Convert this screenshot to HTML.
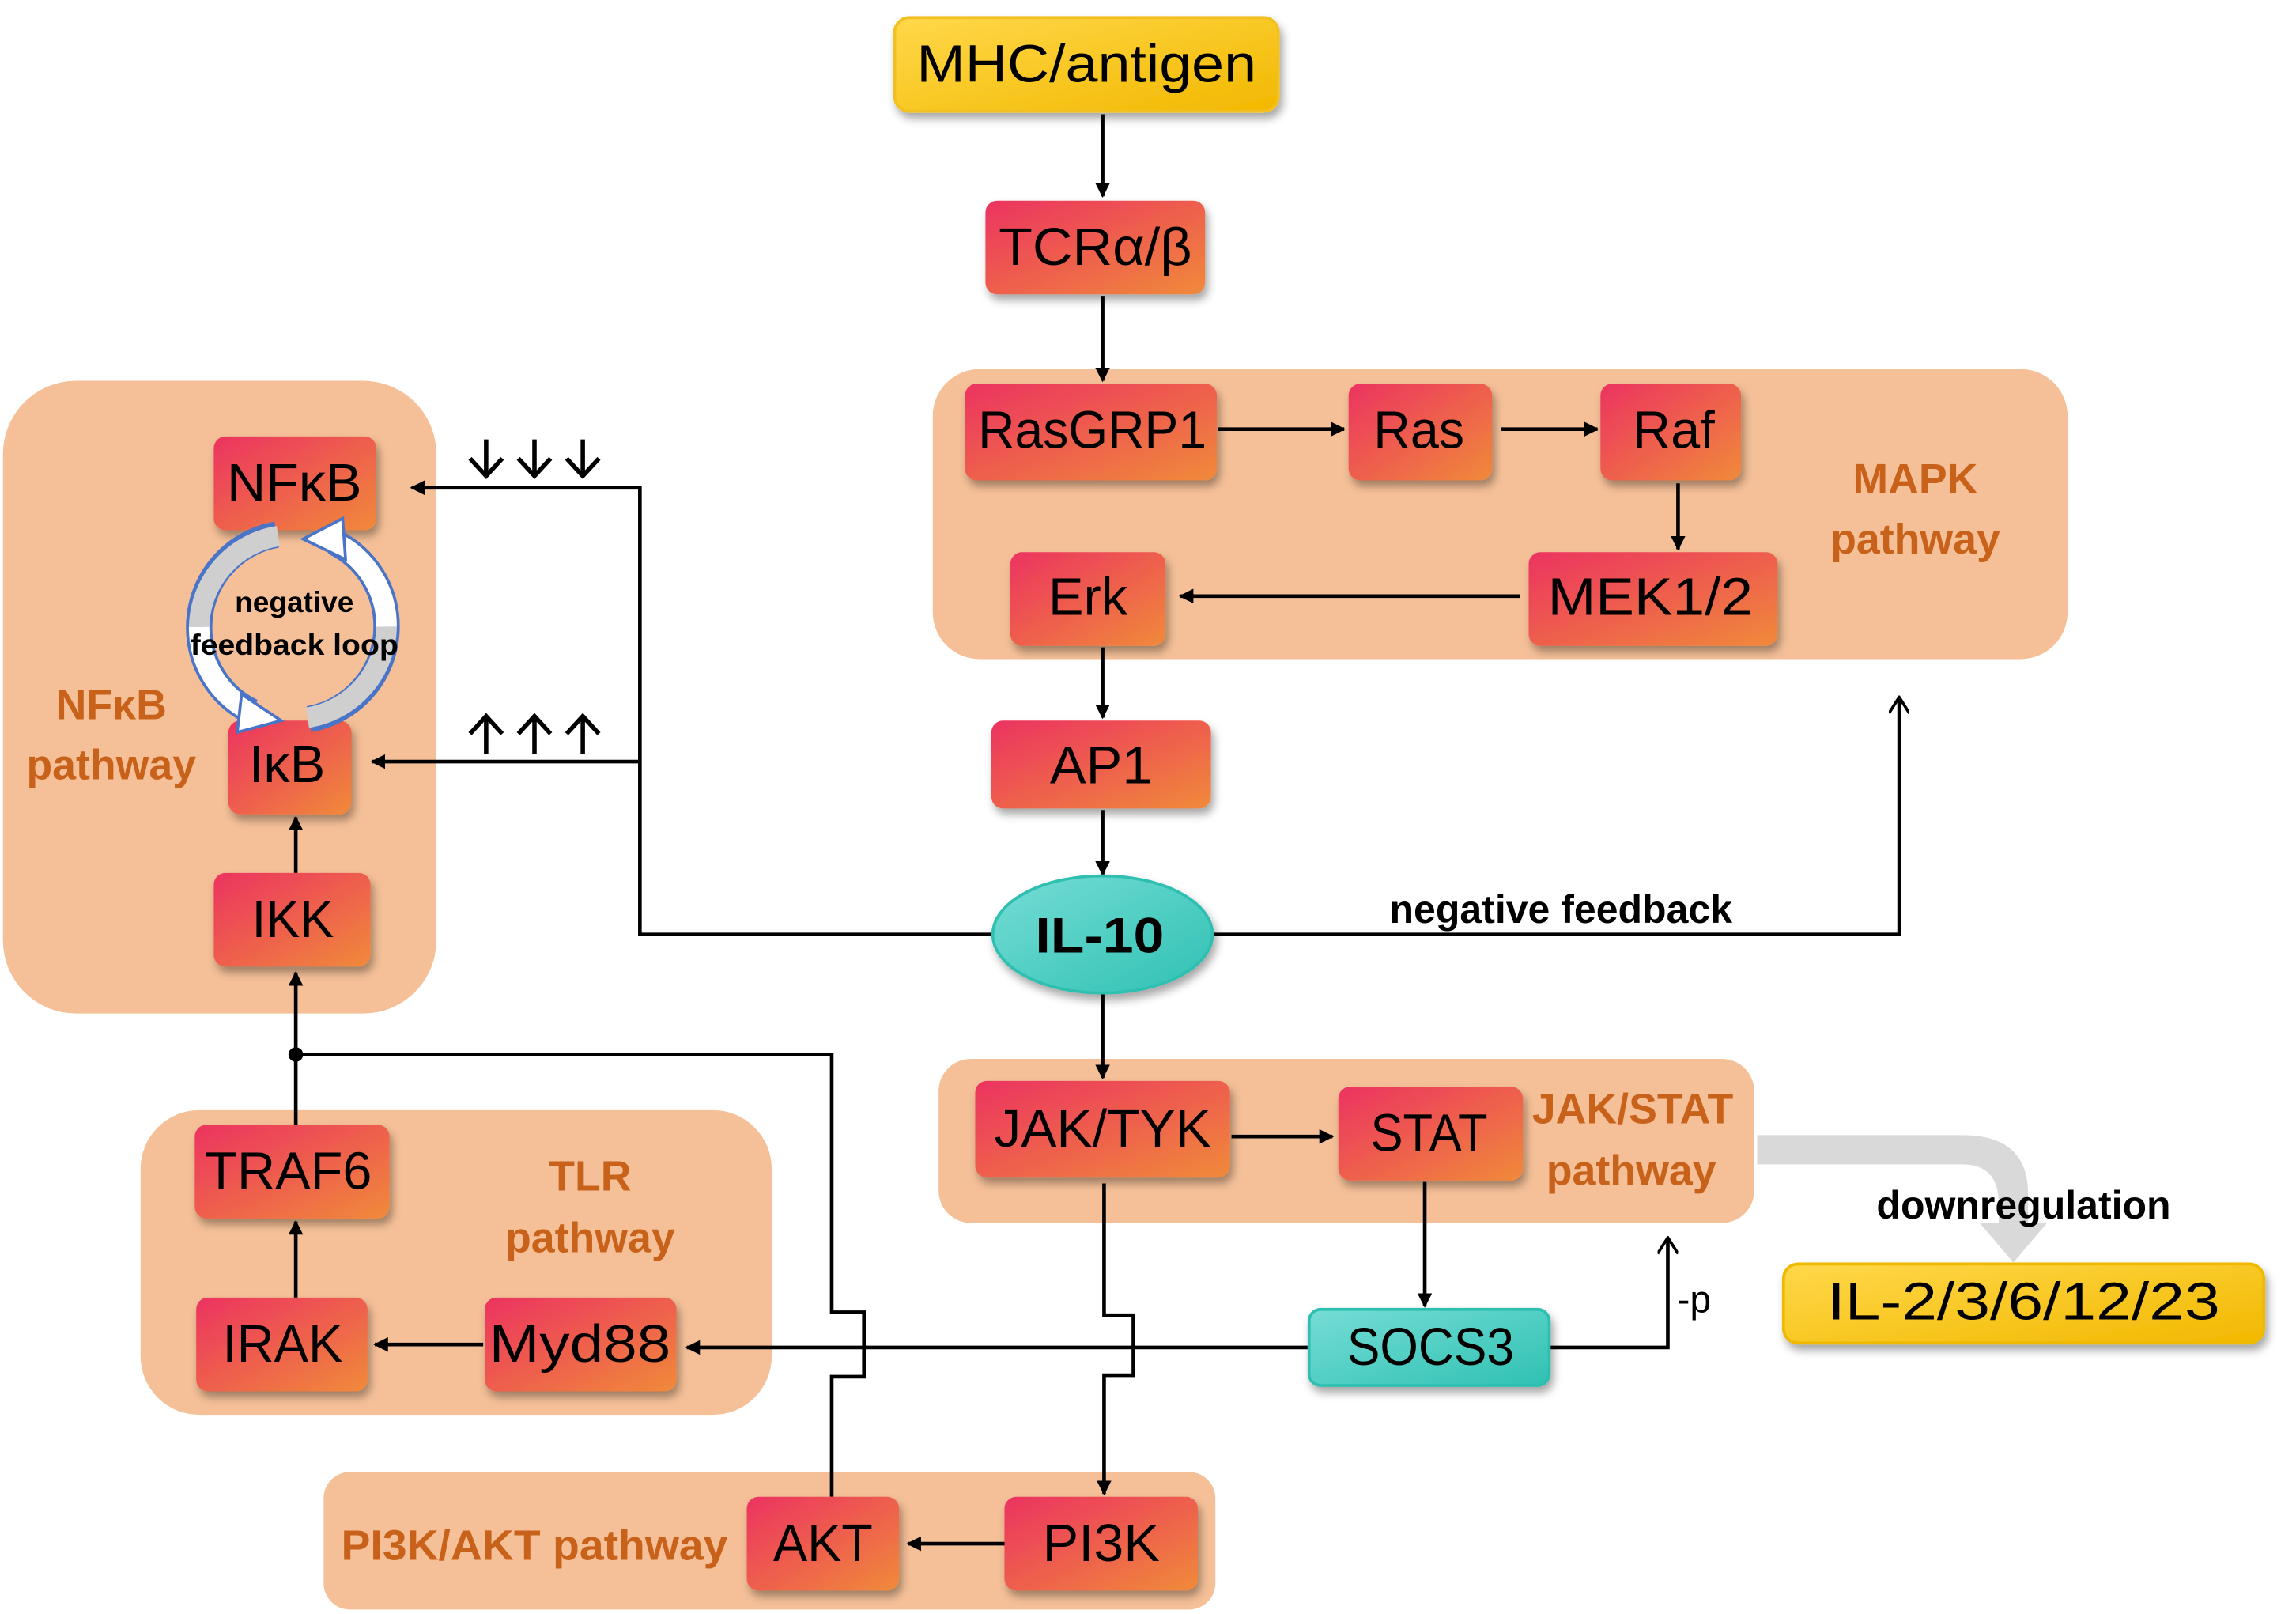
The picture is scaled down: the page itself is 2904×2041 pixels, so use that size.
<!DOCTYPE html>
<html><head><meta charset="utf-8"><style>
html,body{margin:0;padding:0;background:#fff}
svg{display:block}
text{font-family:"Liberation Sans","DejaVu Sans",sans-serif}
.n{font-size:36px;fill:#000;text-anchor:middle;dominant-baseline:central}
.g{font-size:29px;font-weight:bold;fill:#c8621a;text-anchor:middle}
.b{font-size:27px;font-weight:bold;fill:#000;text-anchor:middle}
.l{stroke:#000;stroke-width:2.5;fill:none}
.k{stroke:#000;stroke-width:3;fill:none}
</style></head><body>
<svg width="2904" height="2041" viewBox="0 0 1568 1102" xmlns="http://www.w3.org/2000/svg">
<defs>
<linearGradient id="r" x1="0" y1="0" x2="1" y2="1"><stop offset="0" stop-color="#ec3360"/><stop offset="1" stop-color="#f08a3a"/></linearGradient>
<linearGradient id="y" x1="0" y1="0" x2="1" y2="1"><stop offset="0" stop-color="#ffd84a"/><stop offset="1" stop-color="#f2b800"/></linearGradient>
<linearGradient id="t" x1="0" y1="0" x2="1" y2="1"><stop offset="0" stop-color="#76ddd5"/><stop offset="1" stop-color="#2fc1b3"/></linearGradient>
<filter id="s" x="-20%" y="-20%" width="140%" height="150%"><feDropShadow dx="2" dy="4" stdDeviation="3" flood-color="#000" flood-opacity="0.35"/></filter>
<marker id="a" markerWidth="10" markerHeight="10" refX="9" refY="5" orient="auto" markerUnits="userSpaceOnUse"><path d="M0,0 L10,5 L0,10 z" fill="#000"/></marker>
<marker id="o" markerWidth="14" markerHeight="14" refX="7" refY="1" orient="0" markerUnits="userSpaceOnUse"><path d="M0,12 L7,1 L14,12" fill="none" stroke="#000" stroke-width="2"/></marker>
</defs>
<!-- groups -->
<rect x="2" y="260" width="296" height="432" rx="50" fill="#f5c098"/>
<rect x="637" y="252" width="775" height="198" rx="32" fill="#f5c098"/>
<rect x="96" y="758" width="431" height="208" rx="40" fill="#f5c098"/>
<rect x="641" y="723" width="557" height="112" rx="22" fill="#f5c098"/>
<rect x="221" y="1005" width="609" height="94" rx="18" fill="#f5c098"/>
<text class="g" x="1308" y="337">MAPK</text><text class="g" x="1308" y="378">pathway</text>
<text class="g" x="76" y="491">NFκB</text><text class="g" x="76" y="532">pathway</text>
<text class="g" x="403" y="813">TLR</text><text class="g" x="403" y="855">pathway</text>
<text class="g" x="1115" y="767">JAK/STAT</text><text class="g" x="1114" y="809">pathway</text>
<text class="g" x="365" y="1065" textLength="264" lengthAdjust="spacingAndGlyphs">PI3K/AKT pathway</text>
<!-- connectors -->
<path class="l" d="M753,78 V134" marker-end="url(#a)"/>
<path class="l" d="M753,202 V260" marker-end="url(#a)"/>
<path class="l" d="M832,293 H918" marker-end="url(#a)"/>
<path class="l" d="M1025,293 H1091" marker-end="url(#a)"/>
<path class="l" d="M1146,330 V375" marker-end="url(#a)"/>
<path class="l" d="M1038,407 H806" marker-end="url(#a)"/>
<path class="l" d="M753,442 V490" marker-end="url(#a)"/>
<path class="l" d="M753,553 V597" marker-end="url(#a)"/>
<path class="l" d="M678,638 H437 V333 H281" marker-end="url(#a)"/>
<path class="l" d="M437,520 H254" marker-end="url(#a)"/>
<path class="l" d="M829,638 H1297 V476" marker-end="url(#o)"/>
<path class="l" d="M753,679 V736" marker-end="url(#a)"/>
<path class="l" d="M841,776 H910" marker-end="url(#a)"/>
<path class="l" d="M973,807 V892" marker-end="url(#a)"/>
<path class="l" d="M754,808 V898 H774 V939 H754 V1020" marker-end="url(#a)"/>
<path class="l" d="M893,920 H469" marker-end="url(#a)"/>
<path class="l" d="M1058,920 H1139 V845" marker-end="url(#o)"/>
<path class="l" d="M330,918 H256" marker-end="url(#a)"/>
<path class="l" d="M202,886 V834" marker-end="url(#a)"/>
<path class="l" d="M202,768 V664" marker-end="url(#a)"/>
<path class="l" d="M202,596 V558" marker-end="url(#a)"/>
<path class="l" d="M202,720 H568 V896 H590 V940 H568 V1022"/>
<circle cx="202" cy="720" r="5" fill="#000"/>
<path class="l" d="M686,1054 H620" marker-end="url(#a)"/>
<!-- ↓↓↓ and ↑↑↑ -->
<g class="k">
<path d="M332,300 V325 M321,313 L332,325 L343,313"/>
<path d="M365,300 V325 M354,313 L365,325 L376,313"/>
<path d="M398,300 V325 M387,313 L398,325 L409,313"/>
<path d="M332,515 V489 M321,501 L332,489 L343,501"/>
<path d="M365,515 V489 M354,501 L365,489 L376,501"/>
<path d="M398,515 V489 M387,501 L398,489 L409,501"/>
</g>
<text x="1157" y="896" font-size="26" text-anchor="middle">-p</text>
<!-- downregulation arrow -->
<path d="M1200,775 H1340 Q1385,775 1385,815 V835 H1398 L1375,862 L1352,835 H1365 V822 Q1365,795 1340,795 H1200 z" fill="#d9d9d9"/>
<text class="b" x="1382" y="832">downregulation</text>
<text class="b" x="1066" y="630">negative feedback</text>
<!-- nodes -->
<g filter="url(#s)">
<rect x="611" y="12" width="262" height="64" rx="10" fill="url(#y)" stroke="#f2c020" stroke-width="2"/>
<rect x="1218" y="863" width="328" height="54" rx="10" fill="url(#y)" stroke="#efb900" stroke-width="2"/>
<rect x="673" y="137" width="150" height="64" rx="8" fill="url(#r)"/>
<rect x="659" y="262" width="172" height="66" rx="8" fill="url(#r)"/>
<rect x="921" y="262" width="98" height="66" rx="8" fill="url(#r)"/>
<rect x="1093" y="262" width="96" height="66" rx="8" fill="url(#r)"/>
<rect x="1044" y="377" width="170" height="64" rx="8" fill="url(#r)"/>
<rect x="690" y="377" width="106" height="64" rx="8" fill="url(#r)"/>
<rect x="677" y="492" width="150" height="60" rx="8" fill="url(#r)"/>
<rect x="146" y="298" width="111" height="64" rx="8" fill="url(#r)"/>
<rect x="156" y="492" width="84" height="64" rx="8" fill="url(#r)"/>
<rect x="146" y="596" width="107" height="64" rx="8" fill="url(#r)"/>
<rect x="133" y="768" width="133" height="64" rx="8" fill="url(#r)"/>
<rect x="134" y="886" width="117" height="64" rx="8" fill="url(#r)"/>
<rect x="331" y="886" width="131" height="64" rx="8" fill="url(#r)"/>
<rect x="666" y="738" width="174" height="66" rx="8" fill="url(#r)"/>
<rect x="914" y="742" width="126" height="64" rx="8" fill="url(#r)"/>
<rect x="510" y="1022" width="104" height="64" rx="8" fill="url(#r)"/>
<rect x="686" y="1022" width="132" height="64" rx="8" fill="url(#r)"/>
<rect x="894" y="894" width="164" height="52" rx="8" fill="url(#t)" stroke="#2fbfb0" stroke-width="2"/>
<ellipse cx="753" cy="638" rx="75" ry="40" fill="url(#t)" stroke="#2fbfb0" stroke-width="2"/>
</g>
<text class="n" x="742" y="44" textLength="232" lengthAdjust="spacingAndGlyphs">MHC/antigen</text>
<text class="n" x="1382" y="889" textLength="268" lengthAdjust="spacingAndGlyphs">IL-2/3/6/12/23</text>
<text class="n" x="748" y="169" textLength="132" lengthAdjust="spacingAndGlyphs">TCRα/β</text>
<text class="n" x="746" y="294" textLength="156" lengthAdjust="spacingAndGlyphs">RasGRP1</text>
<text class="n" x="969" y="294" textLength="62" lengthAdjust="spacingAndGlyphs">Ras</text>
<text class="n" x="1143" y="294" textLength="56" lengthAdjust="spacingAndGlyphs">Raf</text>
<text class="n" x="1127" y="408" textLength="140" lengthAdjust="spacingAndGlyphs">MEK1/2</text>
<text class="n" x="743" y="408" textLength="54" lengthAdjust="spacingAndGlyphs">Erk</text>
<text class="n" x="752" y="523" textLength="70" lengthAdjust="spacingAndGlyphs">AP1</text>
<text class="n" x="201" y="330" textLength="92" lengthAdjust="spacingAndGlyphs">NFκB</text>
<text class="n" x="196" y="522" textLength="52" lengthAdjust="spacingAndGlyphs">IκB</text>
<text class="n" x="200" y="628" textLength="56" lengthAdjust="spacingAndGlyphs">IKK</text>
<text class="n" x="197" y="800" textLength="114" lengthAdjust="spacingAndGlyphs">TRAF6</text>
<text class="n" x="193" y="918" textLength="82" lengthAdjust="spacingAndGlyphs">IRAK</text>
<text class="n" x="396" y="918" textLength="124" lengthAdjust="spacingAndGlyphs">Myd88</text>
<text class="n" x="753" y="771" textLength="148" lengthAdjust="spacingAndGlyphs">JAK/TYK</text>
<text class="n" x="976" y="774" textLength="80" lengthAdjust="spacingAndGlyphs">STAT</text>
<text class="n" x="562" y="1054" textLength="68" lengthAdjust="spacingAndGlyphs">AKT</text>
<text class="n" x="752" y="1054" textLength="80" lengthAdjust="spacingAndGlyphs">PI3K</text>
<text class="n" x="977" y="920" textLength="114" lengthAdjust="spacingAndGlyphs">SOCS3</text>
<text x="751" y="639" font-size="34" font-weight="bold" text-anchor="middle" dominant-baseline="central" textLength="88" lengthAdjust="spacingAndGlyphs">IL-10</text>
<!-- feedback loop -->
<g fill="none">
<path d="M189,365 A64,64 0 0 0 136,428 A64,64 0 0 0 172,486" stroke="#4a74c8" stroke-width="18"/>
<path d="M211,491 A64,64 0 0 0 264,428 A64,64 0 0 0 228,370" stroke="#4a74c8" stroke-width="18"/>
<path d="M190,366 A64,64 0 0 0 136,428" stroke="#cfcfcf" stroke-width="14"/>
<path d="M136,428 A64,64 0 0 0 172,486" stroke="#fff" stroke-width="14"/>
<path d="M210,490 A64,64 0 0 0 264,428" stroke="#cfcfcf" stroke-width="14"/>
<path d="M264,428 A64,64 0 0 0 228,370" stroke="#fff" stroke-width="14"/>
</g>
<path d="M165,474 L192,492 L162,500 z" fill="#fff" stroke="#4a74c8" stroke-width="2"/>
<path d="M236,382 L207,368 L234,354 z" fill="#fff" stroke="#4a74c8" stroke-width="2"/>
<text x="201" y="418" font-size="20" font-weight="bold" text-anchor="middle">negative</text>
<text x="201" y="447" font-size="20" font-weight="bold" text-anchor="middle" textLength="142" lengthAdjust="spacingAndGlyphs">feedback loop</text>
</svg>
</body></html>
